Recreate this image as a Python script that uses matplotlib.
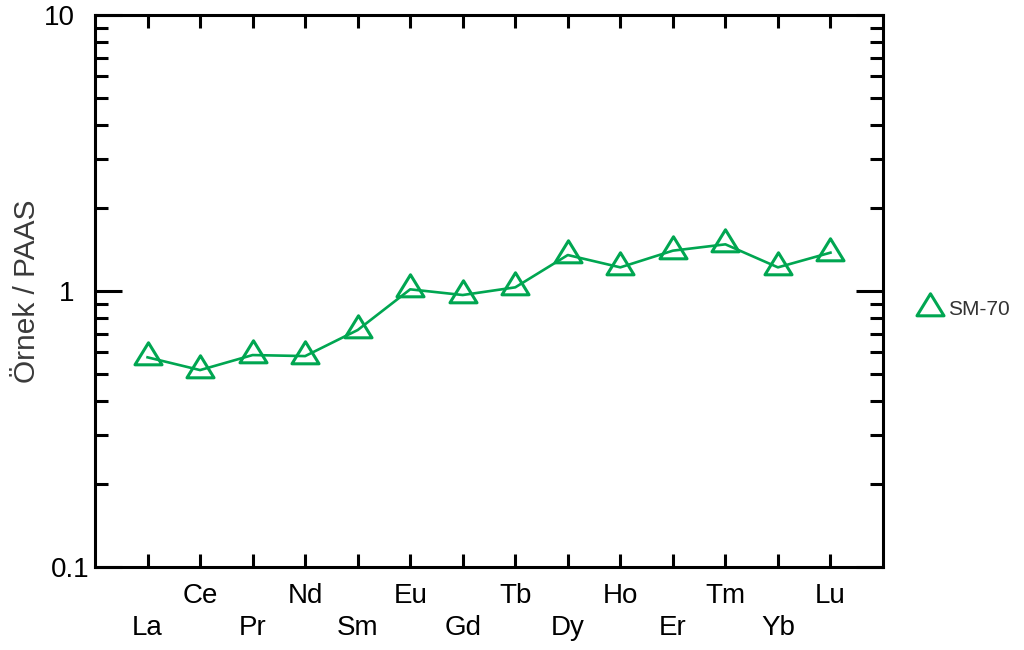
import matplotlib
matplotlib.use("Agg")
import matplotlib.pyplot as plt
from matplotlib.path import Path
from matplotlib.transforms import ScaledTranslation
from matplotlib.ticker import FixedLocator, NullFormatter, FixedFormatter

plt.rcParams['font.family'] = ['Liberation Sans', 'DejaVu Sans']

# Rare earth elements (Pm omitted) and PAAS-normalised values for sample SM-70
elements = ["La", "Ce", "Pr", "Nd", "Sm", "Eu", "Gd", "Tb", "Dy", "Ho", "Er", "Tm", "Yb", "Lu"]
sm70 = [0.575, 0.517, 0.586, 0.581, 0.722, 1.014, 0.967, 1.031, 1.35, 1.218, 1.40, 1.476, 1.218, 1.377]
y_major = [0.1, 1, 10]
y_major_labels = ["0.1", "1", "10"]
y_minor = [m * d for d in (0.1, 1) for m in range(2, 10)]

green = "#00A651"

# open triangle with its centroid on the data point
tri = Path([(0, 14.7), (-13.5, -7.3), (13.5, -7.3), (0, 14.7)],
           [Path.MOVETO, Path.LINETO, Path.LINETO, Path.CLOSEPOLY])

fig = plt.figure(figsize=(10.24, 6.5), dpi=100)
ax = fig.add_axes([95 / 1024, 1 - 567 / 650, 788 / 1024, 552 / 650])

x = list(range(len(elements)))
ax.plot(x, sm70, color=green, lw=1.9, marker=tri, ms=21.2,
        mfc="none", mec=green, mew=2.2, label="SM-70", zorder=3)

ax.set_yscale("log")
ax.set_ylim(0.1, 10)
ax.set_xlim(-1, 14)

ax.yaxis.set_major_locator(FixedLocator(y_major))
ax.yaxis.set_major_formatter(FixedFormatter(y_major_labels))
ax.yaxis.set_minor_locator(FixedLocator(y_minor))
ax.yaxis.set_minor_formatter(NullFormatter())

# staggered element labels: odd positions on the upper row, even on the lower row
ax.xaxis.set_major_locator(FixedLocator(x[1::2]))
ax.xaxis.set_major_formatter(FixedFormatter(elements[1::2]))
ax.xaxis.set_minor_locator(FixedLocator(x[0::2]))
ax.xaxis.set_minor_formatter(FixedFormatter(elements[0::2]))

for s in ax.spines.values():
    s.set_linewidth(2.2)

ax.tick_params(axis="x", which="both", direction="in", top=True, bottom=True,
               length=9.4, width=2.2, labelsize=20, colors="black")
ax.tick_params(axis="x", which="major", pad=11.5)
ax.tick_params(axis="x", which="minor", pad=34.5)
ax.tick_params(axis="y", which="major", direction="in", left=True, right=True,
               length=19.5, width=2.2, labelsize=20, pad=4)
ax.tick_params(axis="y", which="minor", direction="in", left=True, right=True,
               length=9.4, width=2.2)

# integer decade labels sit a little further from the axis
shift = ScaledTranslation(-15 / 100, 0, fig.dpi_scale_trans)
for tick, lab in zip(ax.yaxis.get_major_ticks(), y_major_labels):
    if lab != "0.1":
        tick.label1.set_transform(tick.label1.get_transform() + shift)

ax.set_ylabel("Örnek / PAAS", fontsize=21.5, color="#3a3a3a")
ax.yaxis.set_label_coords(-0.0685, 0.5)

leg = ax.legend(loc="center left", bbox_to_anchor=(1.036, 0.466), frameon=False,
                fontsize=15, handlelength=1.0, handletextpad=0.35, borderaxespad=0)
for t in leg.get_texts():
    t.set_color("#333333")
leg.get_lines()[0].set_linestyle("none")

fig.savefig("out.png", dpi=100)
